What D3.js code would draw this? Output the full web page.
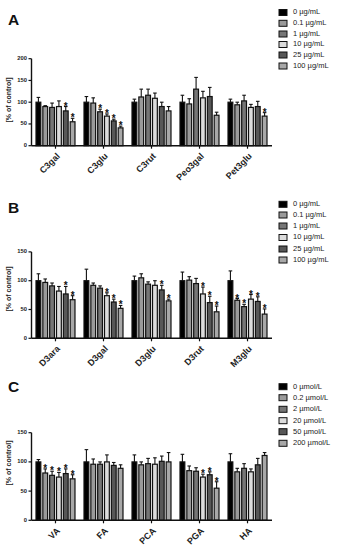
<!DOCTYPE html>
<html>
<head>
<meta charset="utf-8">
<script src="https://cdn.jsdelivr.net/npm/d3@7"></script>
<style>
  body { margin: 0; background: #fff; }
  text { font-family: "Liberation Sans", Arial, sans-serif; }
</style>
</head>
<body>
<svg id="chart" width="337" height="550"></svg>
<script>
// ---- data ----
const groupsA = ["C3gal", "C3glu", "C3rut", "Peo3gal", "Pet3glu"];
const meansA = [[100, 90, 88, 90, 80, 55], [100, 98, 78, 68, 57, 41], [100, 112, 116, 109, 90, 80], [100, 96, 130, 110, 113, 70], [100, 94, 103, 88, 90, 68]];
const errA = [[11, 2, 10, 13, 10, 8], [13, 12, 6, 5, 4, 4], [7, 18, 14, 12, 10, 10], [16, 12, 27, 15, 21, 7], [7, 6, 13, 7, 12, 8]];
const starsA = [[0, 0, 0, 0, 1, 1], [0, 0, 1, 1, 1, 1], [0, 0, 0, 0, 0, 0], [0, 0, 0, 0, 0, 0], [0, 0, 0, 0, 0, 1]];

const groupsB = ["D3ara", "D3gal", "D3glu", "D3rut", "M3glu"];
const meansB = [[100, 97, 91, 82, 77, 67], [100, 92, 87, 74, 63, 52], [100, 105, 94, 92, 84, 65], [100, 101, 95, 77, 62, 46], [100, 66, 55, 68, 64, 42]];
const errB = [[12, 6, 5, 8, 13, 7], [20, 4, 4, 5, 5, 5], [8, 7, 4, 8, 8, 3], [15, 6, 9, 12, 11, 10], [17, 3, 4, 8, 8, 9]];
const starsB = [[0, 0, 0, 0, 1, 1], [0, 0, 0, 1, 1, 1], [0, 0, 0, 0, 1, 1], [0, 0, 0, 1, 1, 1], [0, 1, 1, 1, 1, 1]];

const groupsC = ["VA", "FA", "PCA", "PGA", "HA"];
const meansC = [[100, 81, 77, 74, 80, 71], [100, 96, 96, 100, 94, 89], [100, 95, 97, 96, 101, 100], [100, 85, 84, 74, 78, 55], [100, 83, 89, 83, 95, 111]];
const errC = [[4, 7, 7, 8, 8, 7], [21, 9, 4, 12, 5, 6], [12, 5, 9, 11, 9, 16], [13, 8, 6, 5, 5, 11], [14, 6, 8, 5, 11, 5]];
const starsC = [[0, 1, 1, 1, 1, 1], [0, 0, 0, 0, 0, 0], [0, 0, 0, 0, 0, 0], [0, 0, 0, 1, 1, 1], [0, 0, 0, 0, 0, 0]];

const seriesUg = ["0 µg/mL", "0.1 µg/mL", "1 µg/mL", "10 µg/mL", "25 µg/mL", "100 µg/mL"];
const seriesUmol = ["0 µmol/L", "0.2 µmol/L", "2 µmol/L", "20 µmol/L", "50 µmol/L", "200 µmol/L"];
const fills = ["#000000", "#9a9a9a", "#767676", "#dcdcdc", "#575757", "#a8a8a8"];

const yTicksA = [0, 50, 100, 150, 200];
const yTicksBC = [0, 50, 100, 150];

const svg = d3.select('#chart');

const AXIS_X = 31.5;
const AXIS_END = 272;

function drawPanel(p) {
    const g = svg.append('g');

    const y = d3.scaleLinear().domain([0, p.yMax]).range([p.bottom, p.top]);
    const x = d3.scaleBand().domain(p.groups).range([35.5, 267.5]).paddingInner(0.167).paddingOuter(0);
    const xs = d3.scaleBand().domain(d3.range(6)).range([0, x.bandwidth()]).paddingInner(0.15).paddingOuter(0);

    // panel letter
    g.append('text').text(p.letter)
        .attr('x', 8).attr('y', p.letterY)
        .attr('font-family', '"Open Sans", sans-serif')
        .attr('font-size', 15.5).attr('font-weight', 700).attr('fill', '#111');

    // bars + error bars + stars
    p.groups.forEach((grp, gi) => {
        p.means[gi].forEach((v, si) => {
            const bx = x(grp) + xs(si);
            const bw = xs.bandwidth();
            const cx = bx + bw / 2;
            const errTop = y(v + p.errs[gi][si]);
            g.append('line')
                .attr('x1', cx).attr('x2', cx)
                .attr('y1', y(v)).attr('y2', errTop)
                .attr('stroke', '#111').attr('stroke-width', 1.1);
            g.append('line')
                .attr('x1', cx - 1.8).attr('x2', cx + 1.8)
                .attr('y1', errTop).attr('y2', errTop)
                .attr('stroke', '#111').attr('stroke-width', 1.1);
            g.append('rect')
                .attr('x', bx + 0.5).attr('y', y(v))
                .attr('width', bw - 1).attr('height', y(0) - y(v))
                .attr('fill', fills[si]).attr('stroke', '#111').attr('stroke-width', 1.2);
            if (p.stars[gi][si]) {
                g.append('text').text('*')
                    .attr('x', cx).attr('y', errTop + 3)
                    .attr('text-anchor', 'middle')
                    .attr('font-size', 10).attr('font-weight', 700).attr('fill', '#111');
            }
        });
    });

    // y axis
    g.append('line').attr('x1', AXIS_X).attr('x2', AXIS_X).attr('y1', y(p.yMax)).attr('y2', y(0))
        .attr('stroke', '#111').attr('stroke-width', 1.4);
    p.yTicks.forEach(t => {
        g.append('line').attr('x1', AXIS_X - 3).attr('x2', AXIS_X).attr('y1', y(t)).attr('y2', y(t))
            .attr('stroke', '#111').attr('stroke-width', 1.2);
        g.append('text').text(t)
            .attr('x', AXIS_X - 4.5).attr('y', y(t))
            .attr('text-anchor', 'end').attr('dominant-baseline', 'middle')
            .attr('font-size', 5.8).attr('font-weight', 700).attr('fill', '#222');
    });

    // x axis
    g.append('line').attr('x1', AXIS_X).attr('x2', AXIS_END).attr('y1', y(0)).attr('y2', y(0))
        .attr('stroke', '#111').attr('stroke-width', 1.4);
    p.groups.forEach(grp => {
        const cx = x(grp) + x.bandwidth() / 2;
        g.append('line').attr('x1', cx).attr('x2', cx).attr('y1', y(0)).attr('y2', y(0) + 3)
            .attr('stroke', '#111').attr('stroke-width', 1.2);
        g.append('text').text(grp)
            .attr('transform', 'translate(' + (cx + 5) + ',' + (y(0) + 11) + ') rotate(-45)')
            .attr('text-anchor', 'end')
            .attr('font-size', 9).attr('font-weight', 700).attr('fill', '#222');
    });

    // y label
    g.append('text').text('[% of control]')
        .attr('transform', 'translate(11,' + p.labelY + ') rotate(-90)')
        .attr('text-anchor', 'middle')
        .attr('font-size', 7).attr('font-weight', 700).attr('fill', '#222');

    // legend
    p.series.forEach((s, i) => {
        const ly = p.legendY[i];
        g.append('rect').attr('x', 279).attr('y', ly - 3).attr('width', 8).attr('height', 6)
            .attr('fill', fills[i]).attr('stroke', '#111').attr('stroke-width', 1);
        g.append('text').text(s)
            .attr('x', 293).attr('y', ly)
            .attr('dominant-baseline', 'middle')
            .attr('font-size', 7.5).attr('fill', '#222');
    });
}

drawPanel({
    letter: 'A', letterY: 24.5, groups: groupsA, means: meansA, errs: errA, stars: starsA,
    yMax: 200, yTicks: yTicksA, top: 58.7, bottom: 145.7, labelY: 100,
    series: seriesUg, legendY: [12.5, 23.3, 34, 44.5, 55, 66]
});
drawPanel({
    letter: 'B', letterY: 212.5, groups: groupsB, means: meansB, errs: errB, stars: starsB,
    yMax: 150, yTicks: yTicksBC, top: 251.9, bottom: 338.3, labelY: 289,
    series: seriesUg, legendY: [204.3, 215, 226, 237.5, 249, 260]
});
drawPanel({
    letter: 'C', letterY: 392, groups: groupsC, means: meansC, errs: errC, stars: starsC,
    yMax: 150, yTicks: yTicksBC, top: 432.7, bottom: 520.3, labelY: 463,
    series: seriesUmol, legendY: [386.7, 397.7, 409.3, 420.7, 431.7, 443.3]
});
</script>
</body>
</html>
